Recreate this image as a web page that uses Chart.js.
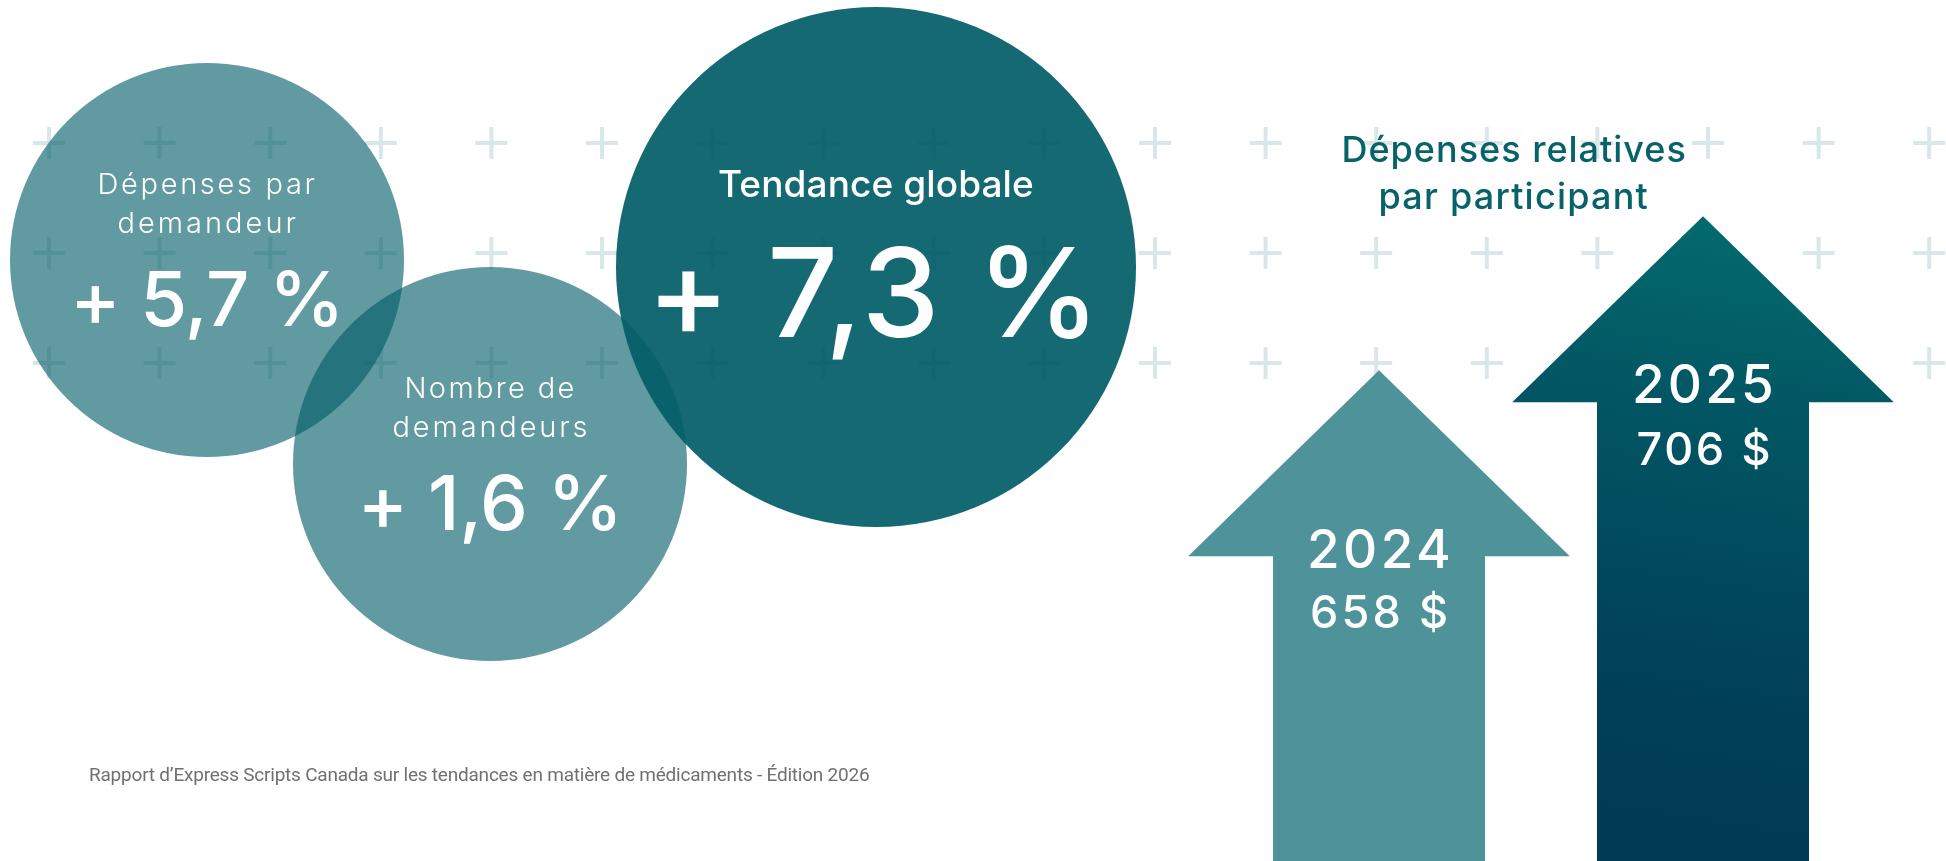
<!DOCTYPE html>
<html lang="fr">
<head>
<meta charset="utf-8">
<title>Tendances en matière de médicaments</title>
<script src="https://cdn.jsdelivr.net/npm/chart.js@4.4.1/dist/chart.umd.min.js"></script>
<style>
  html, body { margin: 0; padding: 0; background: #fff; }
  #wrap { position: relative; width: 1946px; height: 861px; }
</style>
</head>
<body>
<div id="wrap"><canvas id="infographie"></canvas></div>
<script>
// --- données ---
const bubbleLabels = [['Dépenses par', 'demandeur'], ['Nombre de', 'demandeurs'], ['Tendance globale']];
const bubbleValues = [5.7, 1.6, 7.3];
const years = ['2024', '2025'];
const spending = [658, 706];
const arrowTitle = ['Dépenses relatives', 'par participant'];
const footer = 'Rapport d\u2019Express Scripts Canada sur les tendances en matière de médicaments - Édition 2026';

// --- mise en page (pixels) ---
const bubbleX = [207, 490, 876];
const bubbleY = [260, 464, 267];
const bubbleR = [197, 197, 260];
const bubbleColors = ['rgba(0,92,102,0.62)', 'rgba(0,92,102,0.62)', 'rgba(0,92,102,0.92)'];
const arrowX = [1379, 1703];
const TEAL = '#08626a';
const FONT = 'Inter, Roboto, sans-serif';

// pas de marge automatique autour des bulles
Chart.BubbleController.prototype.getMaxOverflow = function () { return 0; };

const pct = v => '+ ' + v.toFixed(1).replace('.', ',') + ' %';
const dollars = v => v + ' $';

// texte ajusté a une largeur visible donnée
function drawFit(ctx, text, cx, y, font, width, align) {
  ctx.font = font;
  ctx.letterSpacing = '0px';
  const m = ctx.measureText(text);
  const ink = m.actualBoundingBoxLeft + m.actualBoundingBoxRight;
  const n = [...text].length;
  const ls = n > 1 ? (width - ink) / (n - 1) : 0;
  ctx.letterSpacing = ls + 'px';
  ctx.textAlign = 'left';
  const left = align === 'left' ? cx : cx - width / 2;
  ctx.fillText(text, left + m.actualBoundingBoxLeft, y);
  ctx.letterSpacing = '0px';
}

const plusGrid = {
  id: 'plusGrid',
  beforeDatasetsDraw(chart) {
    const ctx = chart.ctx;
    ctx.save();
    ctx.fillStyle = '#dae7e9';
    for (let r = 0; r < 3; r++) {
      for (let c = 0; c < 18; c++) {
        const x = 49 + c * 110.6, y = 143 + r * 110;
        ctx.fillRect(x - 16, y - 2, 32, 4);
        ctx.fillRect(x - 2, y - 16, 4, 32);
      }
    }
    ctx.restore();
  }
};

const arrows = {
  id: 'arrows',
  beforeDatasetDraw(chart, args) {
    if (args.meta.type !== 'bar') return;
    const ctx = chart.ctx;
    const ds = chart.data.datasets[args.index];
    const bottom = chart.chartArea.bottom;
    args.meta.data.forEach((bar, i) => {
      const p = bar.getProps(['x', 'y', 'width'], true);
      const hw = p.width / 2, headW = p.width * 0.9, headH = 186;
      ctx.save();
      if (i === 1) {
        const g = ctx.createLinearGradient(p.x + 50, p.y, p.x - 50, bottom);
        g.addColorStop(0, '#036b6f');
        g.addColorStop(0.3, '#025663');
        g.addColorStop(0.75, '#013f59');
        g.addColorStop(1, '#003a55');
        ctx.fillStyle = g;
      } else {
        ctx.fillStyle = ds.backgroundColor[i];
      }
      ctx.beginPath();
      ctx.moveTo(p.x, p.y);
      ctx.lineTo(p.x + headW, p.y + headH);
      ctx.lineTo(p.x + hw, p.y + headH);
      ctx.lineTo(p.x + hw, bottom);
      ctx.lineTo(p.x - hw, bottom);
      ctx.lineTo(p.x - hw, p.y + headH);
      ctx.lineTo(p.x - headW, p.y + headH);
      ctx.closePath();
      ctx.fill();
      ctx.restore();
    });
    return false;
  }
};

const labels = {
  id: 'labels',
  afterDatasetsDraw(chart) {
    const ctx = chart.ctx;
    ctx.save();
    ctx.fillStyle = '#fff';
    ctx.textBaseline = 'alphabetic';
    const bub = chart.getDatasetMeta(0).data;
    // bulles 1 et 2
    const w1 = [[215, 177, 260], [167, 193, 251]];
    [0, 1].forEach(i => {
      const b = bub[i];
      drawFit(ctx, bubbleLabels[i][0], b.x, b.y - 66, '300 29px ' + FONT, w1[i][0]);
      drawFit(ctx, bubbleLabels[i][1], b.x, b.y - 27, '300 29px ' + FONT, w1[i][1]);
      drawFit(ctx, pct(bubbleValues[i]), b.x, b.y + 66, '500 76px ' + FONT, w1[i][2]);
    });
    const b3 = bub[2];
    drawFit(ctx, bubbleLabels[2][0], b3.x, b3.y - 70, '500 37px ' + FONT, 314);
    drawFit(ctx, pct(bubbleValues[2]), b3.x - 3, b3.y + 70, '500 124px ' + FONT, 430);

    // flèches
    const bars = chart.getDatasetMeta(1).data;
    const yw = [[138, 134], [136, 131]];
    bars.forEach((bar, i) => {
      drawFit(ctx, years[i], bar.x, bar.y + 193 + (i === 0 ? 5 : -6), '500 53px ' + FONT, yw[i][0]);
      drawFit(ctx, dollars(spending[i]), bar.x, bar.y + 258 + (i === 0 ? 0 : -9), '500 45px ' + FONT, yw[i][1]);
    });

    ctx.fillStyle = TEAL;
    drawFit(ctx, arrowTitle[0], 1514, 162, '500 36px ' + FONT, 341);
    drawFit(ctx, arrowTitle[1], 1514, 209, '500 36px ' + FONT, 267);

    ctx.fillStyle = '#707070';
    drawFit(ctx, footer, 90, 781, '400 19px "Liberation Sans Narrow", Roboto, sans-serif', 779, 'left');
    ctx.restore();
  }
};

new Chart(document.getElementById('infographie'), {
  type: 'bubble',
  data: {
    datasets: [{
      type: 'bubble',
      label: 'Tendances',
      data: bubbleValues.map((v, i) => ({ x: bubbleX[i], y: bubbleY[i], r: bubbleR[i], v: v })),
      backgroundColor: bubbleColors,
      borderWidth: 0,
      clip: false,
      xAxisID: 'x',
      yAxisID: 'y'
    }, {
      type: 'bar',
      label: 'Dépenses relatives par participant',
      data: spending.map((v, i) => ({ x: arrowX[i], y: v })),
      backgroundColor: ['#4e9399', '#01515f'],
      barThickness: 212,
      xAxisID: 'x',
      yAxisID: 'y2'
    }]
  },
  options: {
    responsive: true,
    maintainAspectRatio: false,
    animation: false,
    events: [],
    layout: { padding: 0 },
    plugins: { legend: { display: false }, tooltip: { enabled: false } },
    scales: {
      x: { type: 'linear', display: false, min: 0, max: 1946, offset: false },
      y: { type: 'linear', display: false, min: 0, max: 861, reverse: true, offset: false },
      y2: { type: 'linear', display: false, min: 505, max: 773.4, offset: false }
    }
  },
  plugins: [plusGrid, arrows, labels]
});
</script>
</body>
</html>
